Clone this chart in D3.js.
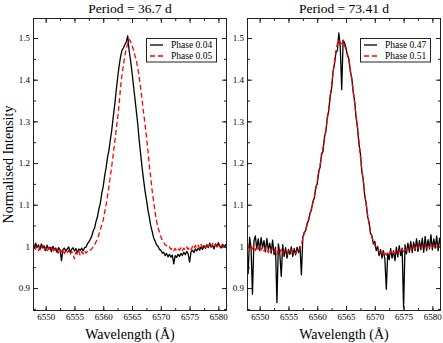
<!DOCTYPE html>
<html><head><meta charset="utf-8">
<script src="https://cdn.jsdelivr.net/npm/d3@7"></script>
<style>body{margin:0;background:#fff}svg{display:block}</style>
</head><body><svg id="c" width="443" height="343"></svg>
<script>
// Wavelength sampling grid (Å): 6547.75 .. 6581.5, step 0.25
const wavelengths = d3.range(6547.75, 6581.51, 0.25);
const titles = ["Period = 36.7 d", "Period = 73.41 d"];
const legendLabels = [["Phase 0.04", "Phase 0.05"], ["Phase 0.47", "Phase 0.51"]];
const xTickValues = [6550, 6555, 6560, 6565, 6570, 6575, 6580];
const yTickValues = [0.9, 1.0, 1.1, 1.2, 1.3, 1.4, 1.5];
const yTickLabels = ["0.9", "1", "1.1", "1.2", "1.3", "1.4", "1.5"];

const phase004 = [1.002,0.995,1.008,0.998,1.004,0.992,1.006,0.996,1.001,0.990,1.003,0.994,0.998,0.987,1.000,0.993,0.996,0.985,0.997,0.991,
0.966,0.992,0.996,0.988,0.994,0.999,0.986,0.993,0.997,0.989,0.995,0.985,0.994,0.990,0.996,0.989,0.997,0.998,1.006,1.011,
1.017,1.024,1.037,1.044,1.060,1.071,1.090,1.104,1.127,1.144,1.170,1.189,1.214,1.231,1.257,1.281,1.312,1.340,1.374,1.404,
1.432,1.454,1.470,1.476,1.484,1.490,1.505,1.470,1.446,1.418,1.386,1.356,1.324,1.293,1.254,1.222,1.189,1.161,1.134,1.113,
1.089,1.071,1.050,1.036,1.021,1.013,1.004,1.001,0.993,0.991,0.984,0.986,0.978,0.983,0.975,0.981,0.974,0.979,0.958,0.978,
0.974,0.981,0.976,0.983,0.978,0.986,0.980,0.988,0.982,0.962,0.987,0.991,0.985,0.994,0.989,0.996,0.991,0.999,0.993,1.002,
0.995,1.004,0.997,1.008,0.998,1.003,0.994,1.006,0.999,1.009,1.001,0.996,1.005,0.999,1.004,1.000];

const phase005 = [0.996,1.004,0.993,1.001,0.990,0.999,0.994,1.003,0.991,0.997,0.988,0.996,0.990,0.998,0.986,0.994,0.989,0.995,0.984,0.992,
0.987,0.993,0.983,0.990,0.985,0.991,0.980,0.988,0.983,0.970,0.986,0.981,0.989,0.978,0.987,0.982,0.990,0.984,0.988,0.986,
0.991,0.994,0.999,1.004,1.011,1.018,1.029,1.041,1.053,1.063,1.082,1.100,1.121,1.145,1.170,1.195,1.222,1.250,1.280,1.308,
1.340,1.380,1.410,1.435,1.458,1.474,1.486,1.497,1.492,1.482,1.472,1.458,1.446,1.428,1.406,1.380,1.352,1.322,1.294,1.265,
1.232,1.196,1.165,1.134,1.108,1.082,1.062,1.046,1.034,1.024,1.015,1.010,1.004,1.002,0.997,0.999,0.993,0.996,0.990,0.995,
0.989,0.994,0.991,0.997,0.990,0.996,0.992,0.999,0.993,0.997,0.991,1.000,0.994,1.002,0.996,1.003,0.995,1.005,0.998,1.003,
0.996,1.006,0.999,1.004,0.997,1.007,1.000,1.005,0.996,1.004,0.999,1.006,0.998,1.003,0.997,1.002];

const phase047 = [1.010,0.935,1.022,0.998,0.885,1.012,1.025,0.994,1.018,0.990,1.021,0.996,1.014,0.987,1.019,0.992,1.008,0.984,1.015,0.980,
0.998,0.865,1.006,0.982,0.928,1.004,0.976,0.997,0.972,0.993,0.981,0.999,0.976,0.995,0.980,0.998,0.985,1.000,0.932,1.022,
1.034,1.038,1.055,1.062,1.080,1.088,1.108,1.116,1.142,1.150,1.180,1.190,1.222,1.228,1.262,1.275,1.310,1.326,1.362,1.380,
1.420,1.438,1.465,1.470,1.512,1.478,1.376,1.495,1.488,1.476,1.458,1.450,1.420,1.404,1.370,1.348,1.310,1.286,1.246,1.222,
1.180,1.160,1.122,1.104,1.072,1.058,1.032,1.026,1.006,1.012,0.990,1.000,0.978,0.992,0.972,0.990,0.970,0.897,0.984,0.968,
0.995,0.972,0.990,0.966,0.998,0.975,1.002,0.978,0.996,0.852,1.004,0.982,1.008,0.986,1.012,0.985,1.010,0.990,1.018,0.988,
1.014,0.992,1.020,0.986,1.024,0.990,1.016,0.994,1.028,0.992,1.018,0.996,1.025,0.990,1.020,0.998];

const phase051 = [0.997,1.005,0.992,1.001,0.994,1.003,0.990,0.999,0.993,1.002,0.991,0.998,0.989,0.997,0.993,0.985,0.996,0.990,0.994,0.986,
0.992,0.980,0.991,0.985,0.993,0.983,0.990,0.986,0.980,0.989,0.984,0.991,0.985,0.988,0.983,0.992,0.988,0.995,1.004,1.020,
1.031,1.040,1.052,1.066,1.076,1.092,1.104,1.120,1.138,1.156,1.176,1.196,1.216,1.236,1.256,1.280,1.304,1.330,1.356,1.386,
1.416,1.444,1.470,1.486,1.496,1.490,1.482,1.494,1.482,1.472,1.462,1.446,1.424,1.400,1.374,1.344,1.314,1.282,1.250,1.216,
1.184,1.156,1.126,1.100,1.076,1.054,1.036,1.022,1.012,1.003,0.996,0.992,0.988,0.984,0.990,0.981,0.987,0.979,0.986,0.982,
0.988,0.980,0.986,0.983,0.989,0.984,0.991,0.986,0.993,0.988,0.995,0.990,0.997,0.992,0.998,0.993,1.000,0.994,1.001,0.996,
1.003,0.995,1.002,0.997,1.004,0.996,1.001,0.998,1.005,0.997,1.003,0.999,1.006,0.998,1.002,1.000];

const FONT = "Liberation Serif";
const panels = [
  {x0: 33, series: [phase004, phase005]},
  {x0: 247, series: [phase047, phase051]}
];
const W = 194, plotTop = 18, plotBottom = 311;
const svg = d3.select("#c");
const y = d3.scaleLinear().domain([0.845, 1.548]).range([plotBottom, plotTop]);
const colors = ["#000", "#ff0000"];
const dashes = [null, "5,3"];

function txt(sel) { return sel.attr("font-family", FONT).style("font-family", "'Liberation Serif', 'Times New Roman', serif").attr("fill", "#000"); }

panels.forEach((p, pi) => {
  const x = d3.scaleLinear().domain([6547.8, 6581.5]).range([p.x0, p.x0 + W]);
  const clipId = "clip" + pi;
  svg.append("clipPath").attr("id", clipId).append("rect")
    .attr("x", p.x0).attr("y", plotTop).attr("width", W).attr("height", plotBottom - plotTop);

  const line = d3.line().x((d, i) => x(wavelengths[i])).y(d => y(d));
  p.series.forEach((s, si) => {
    svg.append("path").datum(s).attr("d", line).attr("clip-path", `url(#${clipId})`)
      .attr("fill", "none").attr("stroke", colors[si]).attr("stroke-width", 1.3)
      .attr("stroke-linejoin", "round")
      .attr("stroke-dasharray", dashes[si]);
  });

  const xMinor = d3.range(6550, 6581, 2.5);
  const yMinor = d3.range(0.85, 1.546, 0.05);
  function style(g) {
    g.attr("font-family", FONT).attr("font-size", 9);
    g.select(".domain").remove();
    g.selectAll("line").attr("stroke", "#222");
    txt(g.selectAll("text")).attr("font-size", 9);
  }
  svg.append("g").attr("transform", `translate(0,${plotBottom})`)
    .call(d3.axisBottom(x).tickValues(xMinor).tickSize(-3).tickFormat("")).call(style);
  svg.append("g").attr("transform", `translate(0,${plotBottom})`)
    .call(d3.axisBottom(x).tickValues(xTickValues).tickSize(-5).tickPadding(3).tickFormat(d3.format("d"))).call(style);
  svg.append("g").attr("transform", `translate(0,${plotTop})`)
    .call(d3.axisTop(x).tickValues(xMinor).tickSize(-3).tickFormat("")).call(style);
  svg.append("g").attr("transform", `translate(0,${plotTop})`)
    .call(d3.axisTop(x).tickValues(xTickValues).tickSize(-5).tickFormat("")).call(style);
  svg.append("g").attr("transform", `translate(${p.x0},0)`)
    .call(d3.axisLeft(y).tickValues(yMinor).tickSize(-3).tickFormat("")).call(style);
  svg.append("g").attr("transform", `translate(${p.x0},0)`)
    .call(d3.axisLeft(y).tickValues(yTickValues).tickSize(-5).tickPadding(3).tickFormat((d, i) => yTickLabels[i])).call(style);
  svg.append("g").attr("transform", `translate(${p.x0 + W},0)`)
    .call(d3.axisRight(y).tickValues(yMinor).tickSize(-3).tickFormat("")).call(style);
  svg.append("g").attr("transform", `translate(${p.x0 + W},0)`)
    .call(d3.axisRight(y).tickValues(yTickValues).tickSize(-5).tickFormat("")).call(style);

  svg.append("rect").attr("x", p.x0 + 0.5).attr("y", plotTop + 0.5).attr("width", W - 1).attr("height", plotBottom - plotTop - 1)
    .attr("fill", "none").attr("stroke", "#222").attr("stroke-width", 1);

  txt(svg.append("text")).attr("x", p.x0 + W / 2).attr("y", 13).attr("text-anchor", "middle")
    .attr("font-size", 13.5).text(titles[pi]);
  txt(svg.append("text")).attr("x", p.x0 + W / 2).attr("y", 339).attr("text-anchor", "middle")
    .attr("font-size", 14).text("Wavelength (Å)");

  const lx = p.x0 + 113;
  const lg = svg.append("g");
  lg.append("rect").attr("x", lx + 0.5).attr("y", 38.5).attr("width", 70).attr("height", 23.5)
    .attr("fill", "#fff").attr("stroke", "#222").attr("stroke-width", 1);
  legendLabels[pi].forEach((lab, li) => {
    const ly = 45 + li * 11;
    lg.append("line").attr("x1", lx + 4).attr("x2", lx + 17).attr("y1", ly).attr("y2", ly)
      .attr("stroke", colors[li]).attr("stroke-width", 1.3).attr("stroke-dasharray", dashes[li]);
    txt(lg.append("text")).attr("x", lx + 25).attr("y", ly + 3.3)
      .attr("font-size", 9.5).text(lab);
  });
});

txt(svg.append("text")).attr("transform", "translate(13,164.5) rotate(-90)").attr("text-anchor", "middle")
  .attr("font-size", 14).text("Normalised Intensity");
</script></body></html>
